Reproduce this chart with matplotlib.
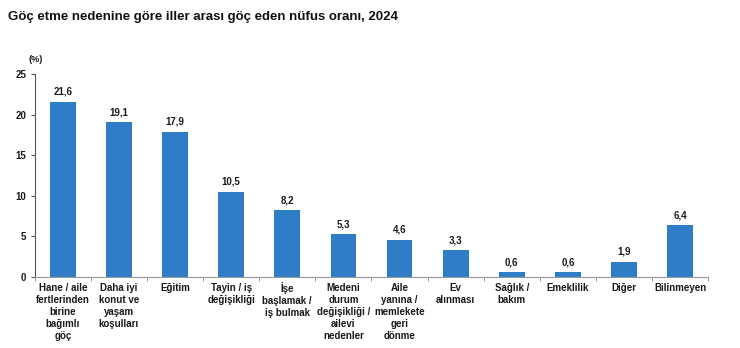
import numpy as np
import matplotlib
matplotlib.use("Agg")
import matplotlib.pyplot as plt

plt.rcParams['font.family'] = ['Liberation Sans', 'DejaVu Sans']

# Göç nedenleri ve oranları (%)
kategoriler = [
    "Hane / aile\nfertlerinden\nbirine\nbağımlı\ngöç",
    "Daha iyi\nkonut ve\nyaşam\nkoşulları",
    "Eğitim",
    "Tayin / iş\ndeğişikliği",
    "İşe\nbaşlamak /\niş bulmak",
    "Medeni\ndurum\ndeğişikliği /\nailevi\nnedenler",
    "Aile\nyanına /\nmemlekete\ngeri\ndönme",
    "Ev\nalınması",
    "Sağlık /\nbakım",
    "Emeklilik",
    "Diğer",
    "Bilinmeyen",
]
oranlar = [21.6, 19.1, 17.9, 10.5, 8.2, 5.3, 4.6, 3.3, 0.6, 0.6, 1.9, 6.4]
yticks = [0, 5, 10, 15, 20, 25]

renk = "#2E7DC6"
yazi = "#1a1a1a"

fig = plt.figure(figsize=(7.4, 3.48), dpi=100)
ax = fig.add_axes([0.047, 0.204, 0.91, 0.583])

x = np.arange(len(oranlar))
bars = ax.bar(x, oranlar, width=0.46, color=renk)

for xi, v in zip(x, oranlar):
    ax.text(xi, v + 0.6, "{:.1f}".format(v).replace(".", ","), ha="center", va="bottom",
            fontsize=7, fontweight="bold", color=yazi)

ax.set_xlim(-0.5, len(oranlar) - 0.5)
ax.set_ylim(0, 25)
ax.set_yticks(yticks)
ax.set_yticklabels([str(t) for t in yticks], fontsize=7, fontweight="bold", color=yazi)

ax.set_xticks(x)
ax.set_xticklabels(kategoriler, fontsize=7, fontweight="bold", color=yazi, linespacing=1.25, va="top")
ax.tick_params(axis="x", length=0, pad=4)
ax.set_xticks(np.arange(len(oranlar) + 1) - 0.5, minor=True)
ax.tick_params(axis="x", which="minor", length=3, color="#888888")
ax.tick_params(axis="y", length=3, color="#555555", pad=3)

for s in ["top", "right"]:
    ax.spines[s].set_visible(False)
ax.spines["left"].set_color("#555555")
ax.spines["bottom"].set_color("#999999")
ax.spines["left"].set_linewidth(0.8)
ax.spines["bottom"].set_linewidth(0.8)

fig.text(0.011, 0.95, "Göç etme nedenine göre iller arası göç eden nüfus oranı, 2024",
         fontsize=9.5, fontweight="bold", color="#111111", ha="left", va="center")
fig.text(0.038, 0.828, "(%)", fontsize=6.5, fontweight="bold", color=yazi, ha="left", va="center")

fig.savefig("out.png", dpi=100, facecolor="white")
